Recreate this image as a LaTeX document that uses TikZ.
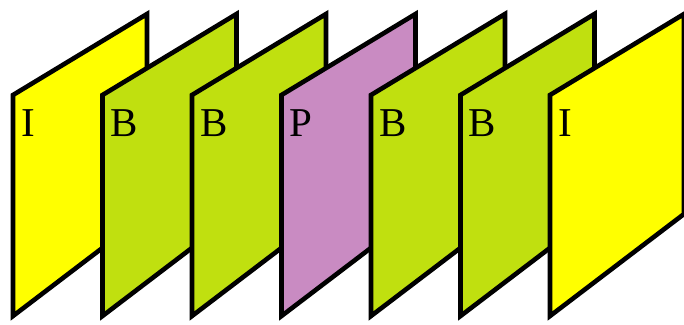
\documentclass[tikz,border=0pt]{standalone}
\usepackage{fontspec}
\setmainfont{Liberation Serif}
\definecolor{frameI}{HTML}{FFFF00}
\definecolor{frameB}{HTML}{C0E00F}
\definecolor{frameP}{HTML}{C98BC2}

\begin{document}
\begin{tikzpicture}[
  x=1pt, y=-1pt,
  slice/.style={draw=black, line width=4.6pt, line join=miter},
  lbl/.style={anchor=base west, inner sep=0pt, font=\fontsize{41}{41}\selectfont}
]
\useasboundingbox (0,0) rectangle (684,324);
% frames, back to front
\foreach \name/\col [count=\i from 0] in {I/frameI,B/frameB,B/frameB,P/frameP,B/frameB,B/frameB,I/frameI} {
  \pgfmathsetmacro{\lx}{13+89.5*\i}
  \draw[slice, fill=\col] (\lx,95) -- (\lx+134,14) -- (\lx+134,214) -- (\lx,316) -- cycle;
  \node[lbl] (f\i) at (\lx+8,136) {\name};
}
\end{tikzpicture}
\end{document}
